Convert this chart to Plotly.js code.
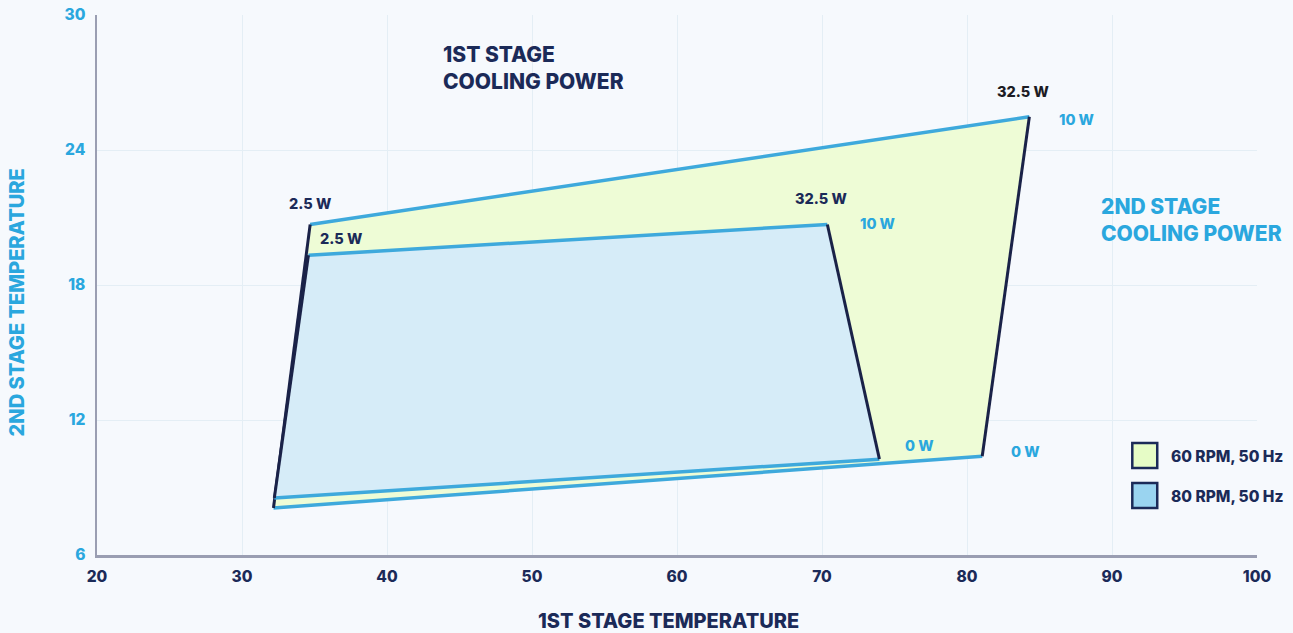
<!DOCTYPE html>
<html>
<head>
<meta charset="utf-8">
<script src="https://cdn.plot.ly/plotly-3.0.1.min.js"></script>
<style>
html,body{margin:0;padding:0;background:#f6f9fd;}
#chart{width:1293px;height:633px;}
</style>
</head>
<body>
<div id="chart"></div>
<script>
// Vertices: top-left, top-right, bottom-right, bottom-left
const seriesNames = ["60 RPM, 50 Hz", "80 RPM, 50 Hz"];
const rpm60X = [34.7, 84.3, 81.05, 32.17];
const rpm60Y = [20.69, 25.48, 10.39, 8.09];
const rpm80X = [34.58, 70.37, 73.96, 32.23];
const rpm80Y = [19.32, 20.69, 10.26, 8.53];
// Point labels: first stage power / second stage power
const rpm60Labels = {tl: "2.5 W", tr1: "32.5 W", tr2: "10 W", br: "0 W"};
const rpm80Labels = {tl: "2.5 W", tr1: "32.5 W", tr2: "10 W", br: "0 W"};
const xTicks = [20, 30, 40, 50, 60, 70, 80, 90, 100];
const yTicks = [6, 12, 18, 24, 30];

const NAVY = "#1b2a58";
const BLUE = "#2aa7de";
const EDGE_BLUE = "#3ea9dc";
const EDGE_NAVY = "#1a2248";
const FONT = "Inter, 'Open Sans', sans-serif";

function polyTraces(X, Y, fill) {
  const t = [];
  t.push({x: [...X, X[0]], y: [...Y, Y[0]], mode: "lines", fill: "toself",
          fillcolor: fill, line: {width: 0}, hoverinfo: "skip", showlegend: false});
  t.push({x: [X[0], X[1]], y: [Y[0], Y[1]], mode: "lines", line: {color: EDGE_BLUE, width: 3.5}, hoverinfo: "skip", showlegend: false});
  t.push({x: [X[2], X[3]], y: [Y[2], Y[3]], mode: "lines", line: {color: EDGE_BLUE, width: 3.5}, hoverinfo: "skip", showlegend: false});
  t.push({x: [X[1], X[2]], y: [Y[1], Y[2]], mode: "lines", line: {color: EDGE_NAVY, width: 3}, hoverinfo: "skip", showlegend: false});
  t.push({x: [X[3], X[0]], y: [Y[3], Y[0]], mode: "lines", line: {color: EDGE_NAVY, width: 3}, hoverinfo: "skip", showlegend: false});
  return t;
}

const traces = [...polyTraces(rpm60X, rpm60Y, "#eefcd6"), ...polyTraces(rpm80X, rpm80Y, "#d6ecf8")];

function lab(text, x, y, xs, ys, color) {
  return {text: text, x: x, y: y, xref: "x", yref: "y", xshift: xs, yshift: ys, showarrow: false,
          font: {family: FONT, size: 14.5, color: color, weight: 800}};
}

const annotations = [
  lab(rpm60Labels.tl, rpm60X[0], rpm60Y[0], 0, 21, NAVY),
  lab(rpm80Labels.tl, rpm80X[0], rpm80Y[0], 33, 17, NAVY),
  lab(rpm80Labels.tr1, rpm80X[1], rpm80Y[1], -6, 26, NAVY),
  lab(rpm80Labels.tr2, rpm80X[1], rpm80Y[1], 51, 1, BLUE),
  lab(rpm60Labels.tr1, rpm60X[1], rpm60Y[1], -6, 25, "#1c1c24"),
  lab(rpm60Labels.tr2, rpm60X[1], rpm60Y[1], 48, -3, BLUE),
  lab(rpm80Labels.br, rpm80X[2], rpm80Y[2], 40, 14, BLUE),
  lab(rpm60Labels.br, rpm60X[2], rpm60Y[2], 43, 5, BLUE),
  {text: "1ST STAGE<br>COOLING POWER", xref: "paper", yref: "paper", x: 0.2968, y: 0.9014,
   xanchor: "left", yanchor: "middle", align: "left", showarrow: false,
   font: {family: FONT, size: 21, color: NAVY, weight: 800}},
  {text: "2ND STAGE<br>COOLING POWER", xref: "paper", yref: "paper", x: 0.8642, y: 0.62,
   xanchor: "left", yanchor: "middle", align: "left", showarrow: false,
   font: {family: FONT, size: 21, color: BLUE, weight: 800}},
  {text: "1ST STAGE TEMPERATURE", xref: "paper", yref: "paper", x: (668 - 96.7) / 1160, y: (555 - 621) / 540.3,
   xanchor: "center", yanchor: "middle", showarrow: false,
   font: {family: FONT, size: 20, color: NAVY, weight: 800}},
  {text: "2ND STAGE TEMPERATURE", xref: "paper", yref: "paper", x: (17 - 96.7) / 1160, y: (555 - 302) / 540.3,
   xanchor: "center", yanchor: "middle", textangle: -90, showarrow: false,
   font: {family: FONT, size: 20, color: BLUE, weight: 800}},
  {text: seriesNames[0], xref: "paper", yref: "paper", x: 0.9244, y: 0.1832, xanchor: "left", yanchor: "middle",
   showarrow: false, font: {family: FONT, size: 15.5, color: NAVY, weight: 800}},
  {text: seriesNames[1], xref: "paper", yref: "paper", x: 0.9244, y: 0.1092, xanchor: "left", yanchor: "middle",
   showarrow: false, font: {family: FONT, size: 15.5, color: NAVY, weight: 800}}
];

const shapes = [
  {type: "rect", xref: "paper", yref: "paper", x0: 0.8925, x1: 0.914, y0: 0.161, y1: 0.2073,
   fillcolor: "#e6fcc6", line: {color: NAVY, width: 2.5}},
  {type: "rect", xref: "paper", yref: "paper", x0: 0.8925, x1: 0.914, y0: 0.087, y1: 0.1333,
   fillcolor: "#9ad4f0", line: {color: NAVY, width: 2.5}}
];

const layout = {
  width: 1293, height: 633,
  margin: {l: 97, r: 36, t: 15, b: 78},
  paper_bgcolor: "#f6f9fd", plot_bgcolor: "#f6f9fd",
  showlegend: false,
  xaxis: {range: [20, 100], tickvals: xTicks, ticktext: xTicks.map(String),
          showgrid: true, gridcolor: "#e4eef5", gridwidth: 1, zeroline: false,
          showline: true, linecolor: "#9a9eb2", linewidth: 2.5, ticks: "",
          tickfont: {family: FONT, size: 15.5, color: NAVY, weight: 800}, ticklabelstandoff: 6},
  yaxis: {range: [6, 30], tickvals: yTicks, ticktext: yTicks.map(String),
          showgrid: true, gridcolor: "#e4eef5", gridwidth: 1, zeroline: false,
          showline: true, linecolor: "#9a9eb2", linewidth: 2.5, ticks: "",
          tickfont: {family: FONT, size: 15.5, color: BLUE, weight: 800}, ticklabelstandoff: 6},
  annotations: annotations,
  shapes: shapes
};

Plotly.newPlot("chart", traces, layout, {displayModeBar: false, staticPlot: true});
</script>
</body>
</html>
